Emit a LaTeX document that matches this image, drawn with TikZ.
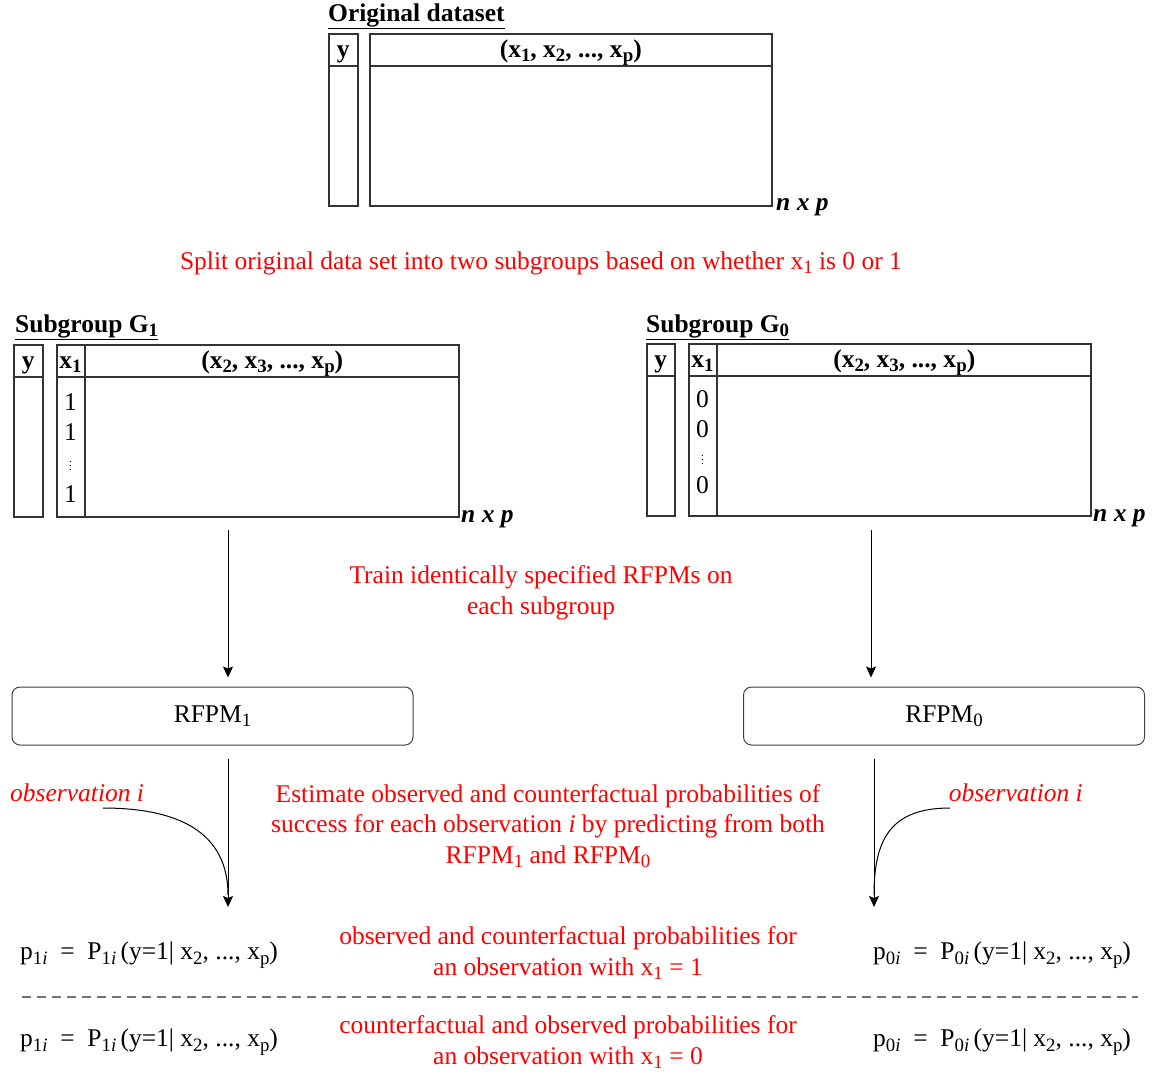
\documentclass[tikz,border=0pt]{standalone}
\usepackage{fontspec}
\usepackage{graphicx}
\setmainfont{Liberation Serif}
\usetikzlibrary{arrows.meta,calc}
\newcommand{\sbs}[1]{\raisebox{-0.38ex}{\scalebox{0.74}{#1}}}
\newcommand{\dfont}{\fontsize{25.5}{30.5}\selectfont}
\tikzset{
  tbl/.style={draw=black!80, line width=1.5pt, inner sep=0pt, anchor=north west},
  tabline/.style={draw=black!80, line width=1.5pt},
  hdr/.style={font=\dfont\bfseries, anchor=base, inner sep=0pt},
  cell/.style={font=\dfont, anchor=base, inner sep=0pt},
  vdot/.style={font=\fontsize{11}{11}\selectfont, inner sep=0pt},
  heading/.style={font=\dfont\bfseries, anchor=base west, inner sep=0pt},
  dims/.style={font=\dfont\bfseries\itshape, anchor=base west, inner sep=0pt},
  model/.style={draw=black!75, line width=1pt, rounded corners=8pt, minimum width=401pt, minimum height=58pt, inner sep=0pt, font=\dfont},
  note/.style={text=red, align=center, inner sep=0pt, font=\dfont},
  obs/.style={text=red, font=\dfont\itshape, inner sep=0pt},
  prob/.style={anchor=west, inner sep=0pt, font=\dfont},
  arrow/.style={-{Stealth[length=11pt,width=10pt,inset=2pt]}, line width=1pt},
  curveline/.style={line width=1pt},
  divider/.style={draw=black!55, line width=1.6pt, dash pattern=on 9pt off 6pt}
}
\begin{document}
\begin{tikzpicture}[x=1pt, y=-1pt]
  \useasboundingbox (0,0) rectangle (1155,1072);

  % original data
  \node[heading] (ttlO) at (328,21) {\underline{Original dataset}};
  \node[tbl, minimum width=29pt, minimum height=172pt] (oy) at (328,33) {};
  \node[tbl, minimum width=402pt, minimum height=172pt] (ox) at (369,33) {};
  \draw[tabline] ($(oy.north west)+(0,33)$) -- ($(oy.north east)+(0,33)$);
  \draw[tabline] ($(ox.north west)+(0,33)$) -- ($(ox.north east)+(0,33)$);
  \node[hdr] at ($(oy.north)+(0,24)$) {y};
  \node[hdr] at ($(ox.north)+(0,24)$) {(x\sbs{1}, x\sbs{2}, ..., x\sbs{p})};
  \node[dims] (dimO) at (776,210) {n x p};

  \node[note] (splitnote) at (541,263) {Split original data set into two subgroups based on whether x\sbs{1} is 0 or 1};

  % subgroup G1
  \node[heading] (ttlA) at (15,332) {\underline{Subgroup G\sbs{1}}};
  \node[tbl, minimum width=29pt, minimum height=172pt] (ay) at (13,344) {};
  \node[tbl, minimum width=402pt, minimum height=172pt] (ax) at (56,344) {};
  \draw[tabline] ($(ay.north west)+(0,33)$) -- ($(ay.north east)+(0,33)$);
  \draw[tabline] ($(ax.north west)+(0,33)$) -- ($(ax.north east)+(0,33)$);
  \draw[tabline] ($(ax.north west)+(29,0)$) -- ($(ax.south west)+(29,0)$);
  \node[hdr] at ($(ay.north)+(0,24)$) {y};
  \node[hdr] at ($(ax.north west)+(14.5,24)$) {x\sbs{1}};
  \node[hdr] at ($(ax.north)+(14.5,24)$) {(x\sbs{2}, x\sbs{3}, ..., x\sbs{p})};
  \node[cell] (a1) at (70.5,410) {1};
  \node[cell] (a2) at (70.5,440) {1};
  \node[vdot] (a3) at (70.5,463) {$\vdots$};
  \node[cell] (a4) at (70.5,502) {1};
  \node[dims] (dimA) at (461,522) {n x p};

  % subgroup G0
  \node[heading] (ttlB) at (646,332) {\underline{Subgroup G\sbs{0}}};
  \node[tbl, minimum width=28pt, minimum height=172pt] (by) at (646,343) {};
  \node[tbl, minimum width=402pt, minimum height=172pt] (bx) at (688,343) {};
  \draw[tabline] ($(by.north west)+(0,33)$) -- ($(by.north east)+(0,33)$);
  \draw[tabline] ($(bx.north west)+(0,33)$) -- ($(bx.north east)+(0,33)$);
  \draw[tabline] ($(bx.north west)+(29,0)$) -- ($(bx.south west)+(29,0)$);
  \node[hdr] at ($(by.north)+(0,24)$) {y};
  \node[hdr] at ($(bx.north west)+(14.5,24)$) {x\sbs{1}};
  \node[hdr] at ($(bx.north)+(14.5,24)$) {(x\sbs{2}, x\sbs{3}, ..., x\sbs{p})};
  \node[cell] (b1) at (702.5,407) {0};
  \node[cell] (b2) at (702.5,437) {0};
  \node[vdot] (b3) at (702.5,457) {$\vdots$};
  \node[cell] (b4) at (702.5,493) {0};
  \node[dims] (dimB) at (1093,521) {n x p};

  \node[note] (trainnote) at (541,593) {Train identically specified RFPMs on\\each subgroup};

  % models
  \node[model] (rfpmA) at (212.5,716) {RFPM\sbs{1}};
  \node[model] (rfpmB) at (944,716) {RFPM\sbs{0}};

  \coordinate (dA) at (228,530);
  \coordinate (dB) at (871,530);
  \draw[arrow, shorten >=9pt] (dA) -- (dA |- rfpmA.north);
  \draw[arrow, shorten >=9pt] (dB) -- (dB |- rfpmB.north);

  \coordinate (pA) at (228,907);
  \coordinate (pB) at (874,907);
  \draw[arrow, shorten <=13pt] (rfpmA.south -| pA) -- (pA);
  \draw[arrow, shorten <=13pt] (rfpmB.south -| pB) -- (pB);

  \node[obs, anchor=west] (obsA) at (10,793) {observation i};
  \node[obs, anchor=east] (obsB) at (1083,793) {observation i};
  \coordinate (cA) at (103,808);
  \coordinate (cB) at (950,808);
  \draw[curveline] (cA) .. controls (190,808) and (228,840) .. ($(pA)+(0,-12)$);
  \draw[curveline] (cB) .. controls (890,808) and (874,840) .. ($(pB)+(0,-12)$);

  \node[note] (estnote) at (548,826) {Estimate observed and counterfactual probabilities of\\success for each observation \textit{i} by predicting from both\\RFPM\sbs{1} and RFPM\sbs{0}};

  % probabilities
  \node[prob] (pA1) at (20,955) {p\sbs{1\textit{i}} ~=~ P\sbs{1\textit{i}}\,(y=1| x\sbs{2}, ..., x\sbs{p})};
  \node[prob] (pB1) at (873,955) {p\sbs{0\textit{i}} ~=~ P\sbs{0\textit{i}}\,(y=1| x\sbs{2}, ..., x\sbs{p})};
  \node[note] (obsnote) at (568,953) {observed and counterfactual probabilities for\\an observation with x\sbs{1} = 1};

  \coordinate (dl) at (22,997);
  \coordinate (dr) at (1138,997);
  \draw[divider] (dl) -- (dr);

  \node[prob] (pA2) at (20,1042) {p\sbs{1\textit{i}} ~=~ P\sbs{1\textit{i}}\,(y=1| x\sbs{2}, ..., x\sbs{p})};
  \node[prob] (pB2) at (873,1042) {p\sbs{0\textit{i}} ~=~ P\sbs{0\textit{i}}\,(y=1| x\sbs{2}, ..., x\sbs{p})};
  \node[note] (cfnote) at (568,1042) {counterfactual and observed probabilities for\\an observation with x\sbs{1} = 0};
\end{tikzpicture}
\end{document}
